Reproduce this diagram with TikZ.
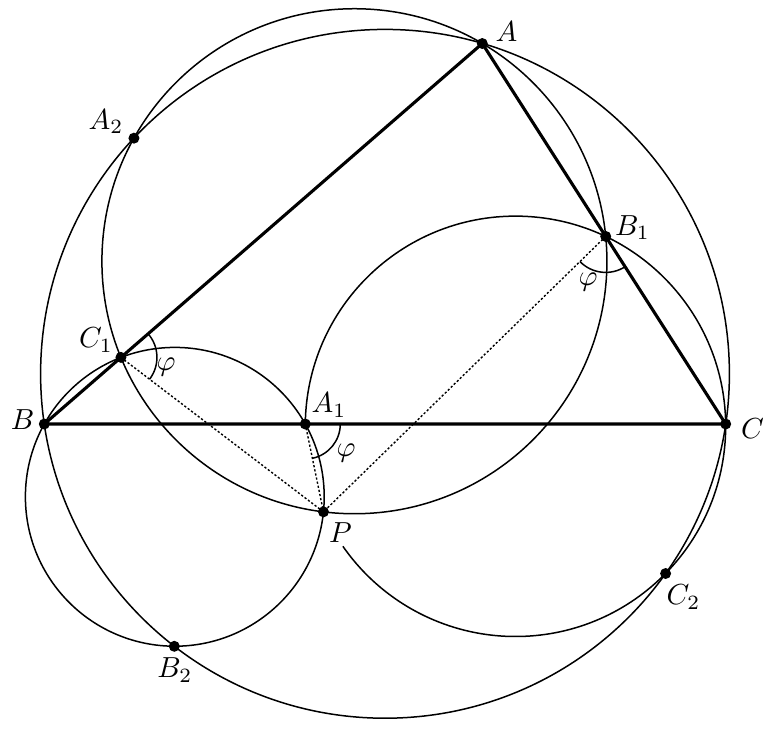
\documentclass[tikz,border=0pt]{standalone}
\usepackage{graphicx}
\begin{document}
\begin{tikzpicture}[x=1pt,y=-1pt,
  thin line/.style={line width=1.5pt},
  thick line/.style={line width=3.1pt},
  dotline/.style={line width=1.4pt,dash pattern=on 2.2pt off 2pt},
  ptdot/.style={fill=black},
  lbl/.style={inner sep=0pt}]
\useasboundingbox (0,0) rectangle (777,732);
% points
\coordinate (A) at (482.3,43.5);
\coordinate (B) at (44.3,424);
\coordinate (C) at (725.7,424);
\coordinate (A1) at (305.3,424);
\coordinate (B1) at (605.7,236.4);
\coordinate (C1) at (120.95,357.4);
\coordinate (P) at (323.46,511.84);
\coordinate (A2) at (133.94,138.16);
\coordinate (B2) at (174.3,646.3);
\coordinate (C2) at (665.6,573.5);
% circle centres
\coordinate (O) at (385,373.8);
\coordinate (Oa) at (354.42,261.23);
\coordinate (Ob) at (174.8,496.8);
\coordinate (Oc) at (515.5,426.3);
% circles
\draw[thin line] (O) circle[radius=344.4];
\draw[thin line] (Oa) circle[radius=252.5];
\draw[thin line] (Ob) circle[radius=149.4];
\draw[thin line] (A1) arc[start angle=180.63, end angle=505.2, radius=210.2];
% triangle
\draw[thick line, line join=round] (A) -- (B) -- (C) -- cycle;
% dotted
\draw[dotline] (C1) -- (P);
\draw[dotline] (A1) -- (P);
\draw[dotline] (B1) -- (P);
% angle marks
\draw[thin line] (C1) ++(-41:36) arc[start angle=-41, end angle=37.3, radius=36];
\draw[thin line] (A1) ++(0:35) arc[start angle=0, end angle=78.3, radius=35];
\draw[thin line] (B1) ++(57.4:36) arc[start angle=57.4, end angle=135.7, radius=36];
\node[lbl] (phiC) at (166,367) {\scalebox{2.9}{$\varphi$}};
\node[lbl] (phiA) at (346,453) {\scalebox{2.9}{$\varphi$}};
\node[lbl] (phiB) at (588,282) {\scalebox{2.9}{$\varphi$}};
% dots
\foreach \p in {A,B,C,A1,B1,C1,P,A2,B2,C2}
  \fill[ptdot] (\p) circle[radius=5.5];
% labels
\node[lbl] (lA) at (506.5,31.5) {\scalebox{2.9}{$A$}};
\node[lbl] (lA2) at (106,121.5) {\scalebox{2.9}{$A_2$}};
\node[lbl] (lB) at (22.5,420) {\scalebox{2.9}{$B$}};
\node[lbl] (lC) at (752.5,429) {\scalebox{2.9}{$C$}};
\node[lbl] (lB1) at (632.5,227.5) {\scalebox{2.9}{$B_1$}};
\node[lbl] (lC1) at (96,340) {\scalebox{2.9}{$C_1$}};
\node[lbl] (lA1) at (329,405) {\scalebox{2.9}{$A_1$}};
\node[lbl] (lP) at (340.5,533) {\scalebox{2.9}{$P$}};
\node[lbl] (lB2) at (175,670) {\scalebox{2.9}{$B_2$}};
\node[lbl] (lC2) at (683.5,597) {\scalebox{2.9}{$C_2$}};
\end{tikzpicture}
\end{document}
